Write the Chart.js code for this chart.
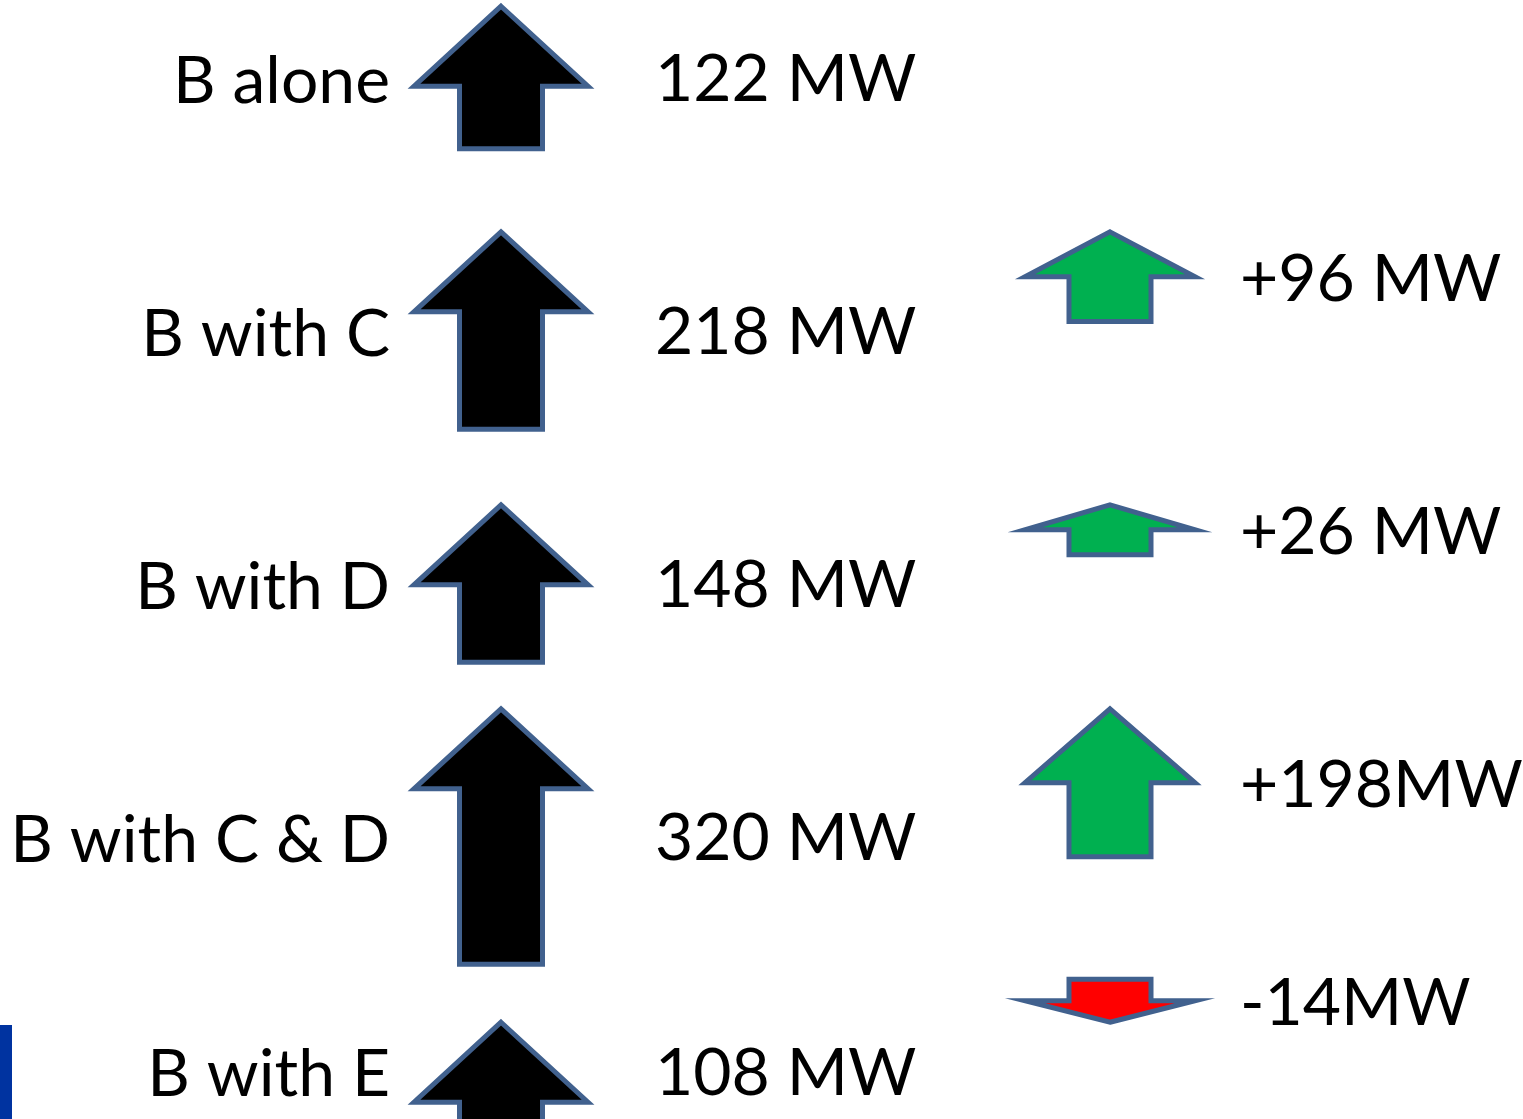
<!DOCTYPE html>
<html>
<head>
<meta charset="utf-8">
<title>B output with other units</title>
<script src="https://cdn.jsdelivr.net/npm/chart.js@4/dist/chart.umd.min.js"></script>
<style>
  html, body { margin: 0; padding: 0; background: #ffffff; overflow: hidden; }
  #wrap { position: relative; width: 1523px; height: 1119px; }
</style>
</head>
<body>
<div id="wrap"><canvas id="chart"></canvas></div>
<script>
// Row categories and values (MW)
const categories = ['B alone', 'B with C', 'B with D', 'B with C & D', 'B with E'];
const totals = [122, 218, 148, 320, 108];
const changes = [null, 96, 26, 198, -14];
const totalUnit = ' MW';
const changeUnits = [null, ' MW', ' MW', 'MW', 'MW'];

const FONT_FAMILY = 'Lato';
const FONT_SIZE = 66;
const OUTLINE = '#41618E';
const PX_PER_MW = 0.57;

// Arrow styles for the two columns
const totalStyle = { baseLen: 73, headW: 174, shaftW: 83, headH: 80, gap: 154 };
const changeStyle = { baseLen: 35, headW: 170, shaftW: 82, headRatio: 0.5, gap: 130 };

const totalLen = (v) => totalStyle.baseLen + v * PX_PER_MW;

function arrowPath(ctx, cx, tipY, len, headW, shaftW, headH, dir) {
  // dir = 1 points up (body below tip), dir = -1 points down (body above tip)
  const y = (d) => tipY + dir * d;
  ctx.beginPath();
  ctx.moveTo(cx, y(0));
  ctx.lineTo(cx + headW / 2, y(headH));
  ctx.lineTo(cx + shaftW / 2, y(headH));
  ctx.lineTo(cx + shaftW / 2, y(len));
  ctx.lineTo(cx - shaftW / 2, y(len));
  ctx.lineTo(cx - shaftW / 2, y(headH));
  ctx.lineTo(cx - headW / 2, y(headH));
  ctx.closePath();
}

function drawValueText(ctx, text, x, cy) {
  ctx.save();
  ctx.font = FONT_SIZE + 'px ' + FONT_FAMILY;
  ctx.fillStyle = '#000000';
  ctx.textAlign = 'left';
  ctx.textBaseline = 'alphabetic';
  const cap = ctx.measureText('0').actualBoundingBoxAscent;
  ctx.fillText(text, x, cy + cap / 2);
  ctx.restore();
}

const arrowPlugin = {
  id: 'arrowMarks',
  beforeDraw(chart) {
    // slide accent bar in the lower left corner
    const ctx = chart.ctx;
    ctx.save();
    ctx.fillStyle = '#0033A0';
    ctx.fillRect(0, 1025, 12, chart.height - 1025);
    ctx.restore();
  },
  afterDatasetsDraw(chart) {
    const ctx = chart.ctx;
    const area = chart.chartArea;
    const totalMeta = chart.getDatasetMeta(0);
    const changeMeta = chart.getDatasetMeta(1);
    const tips = [];

    ctx.save();
    ctx.lineWidth = 5;
    ctx.lineJoin = 'miter';
    ctx.strokeStyle = OUTLINE;

    // totals: black up arrows centred on each row
    totalMeta.data.forEach((pt, i) => {
      const v = totals[i];
      const len = totalLen(v);
      const tipY = pt.y - len / 2;
      tips[i] = tipY;
      arrowPath(ctx, pt.x, tipY, len, totalStyle.headW, totalStyle.shaftW, totalStyle.headH, 1);
      ctx.fillStyle = '#000000';
      ctx.fill();
      ctx.stroke();
      // value text sits at the middle of the visible part of the arrow
      const cy = (tipY + Math.min(tipY + len, area.bottom)) / 2;
      drawValueText(ctx, v + totalUnit, pt.x + totalStyle.gap, cy);
    });

    // changes: green (gain) or red (loss) arrows, tip level with the total's tip
    changeMeta.data.forEach((pt, i) => {
      const v = changes[i];
      if (v == null) return;
      const len = changeStyle.baseLen + Math.abs(v) * PX_PER_MW;
      const dir = v >= 0 ? 1 : -1;
      const tipY = tips[i];
      const headH = len * changeStyle.headRatio;
      arrowPath(ctx, pt.x, tipY, len, changeStyle.headW, changeStyle.shaftW, headH, dir);
      ctx.fillStyle = v >= 0 ? '#00B050' : '#FF0000';
      ctx.fill();
      ctx.stroke();
      const cy = tipY + dir * len / 2;
      const sign = v > 0 ? '+' : '';
      drawValueText(ctx, sign + v + changeUnits[i], pt.x + changeStyle.gap, cy);
    });
    ctx.restore();
  }
};

const chart = new Chart(document.getElementById('chart'), {
  type: 'scatter',
  data: {
    datasets: [
      {
        label: 'Total',
        data: totals.map((v, i) => ({ x: 0, y: i })),
        pointRadius: 0, pointHoverRadius: 0
      },
      {
        label: 'Change',
        data: changes.map((v, i) => ({ x: 1, y: i })),
        pointRadius: 0, pointHoverRadius: 0
      }
    ]
  },
  options: {
    responsive: true,
    maintainAspectRatio: false,
    animation: false,
    events: [],
    layout: { padding: 0 },
    plugins: { legend: { display: false }, tooltip: { enabled: false } },
    scales: {
      x: {
        type: 'linear',
        display: false,
        min: -0.14943,
        max: 1.67816
      },
      y: {
        type: 'linear',
        reverse: true,
        min: -0.30632,
        max: 4.1166,
        grid: { display: false, drawTicks: false },
        border: { display: false },
        // one tick per row, placed at the middle of the visible part of that row's arrow
        afterBuildTicks: (scale) => {
          const ppu = scale.chart.height / (scale.max - scale.min);
          scale.ticks = categories.map((c, i) => {
            const half = totalLen(totals[i]) / 2 / ppu;
            const top = i - half;
            const bottom = Math.min(i + half, scale.max);
            return { value: (top + bottom) / 2 };
          });
        },
        afterFit: (scale) => {
          scale.width = 410;
          scale.paddingTop = 0;
          scale.paddingBottom = 0;
        },
        ticks: {
          autoSkip: false,
          padding: 20,
          labelOffset: 4,
          color: '#000000',
          font: { family: FONT_FAMILY, size: FONT_SIZE },
          callback: (value, index) => categories[index]
        }
      }
    }
  },
  plugins: [arrowPlugin]
});
</script>
</body>
</html>
